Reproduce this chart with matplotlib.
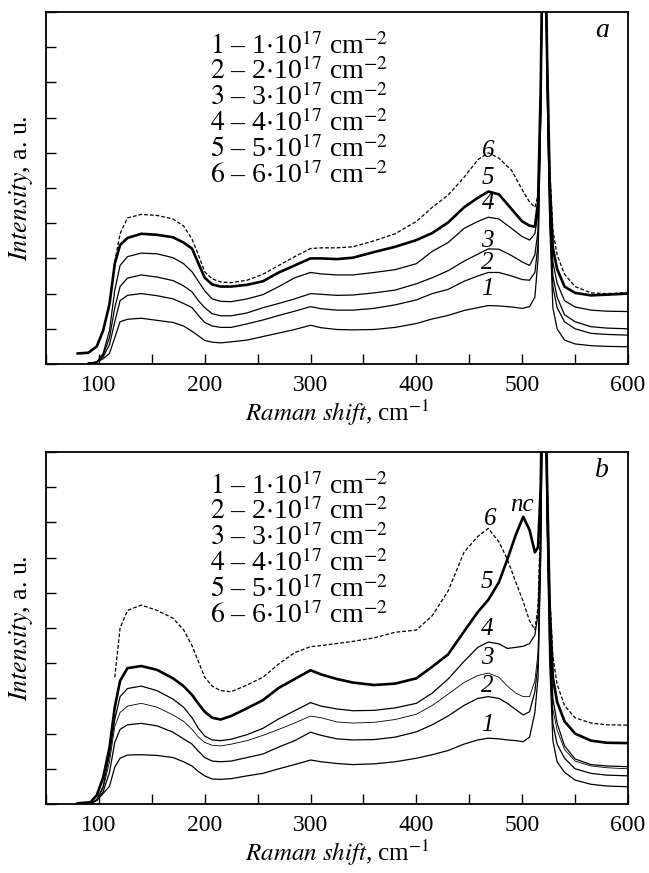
import numpy as np
import matplotlib
matplotlib.use("Agg")
import matplotlib.pyplot as plt
from matplotlib.ticker import MultipleLocator, NullFormatter

plt.rcParams['font.family'] = ['Liberation Serif', 'DejaVu Serif']
plt.rcParams['mathtext.fontset'] = 'stix'

# --- panel a: Raman shift grid and curves 1..6 ---
xa = [80, 90, 98, 104, 110, 115, 120, 127, 140, 155, 170, 180, 188, 194, 200, 207,
      215, 225, 240, 255, 270, 285, 300, 310, 325, 340, 360, 380, 400, 415, 430, 445,
      458, 468, 478, 490, 500, 507, 512, 515, 517.5, 520.5, 523.5, 526, 529, 533, 540, 550,
      565, 580, 600]
a1 = [None, 0.03, 0.05, 0.15, 0.3, 0.75, 1.2, 1.27, 1.3, 1.24, 1.18, 1.08, 0.93, 0.8, 0.67, 0.62,
      0.6, 0.63, 0.68, 0.78, 0.88, 0.98, 1.1, 1.03, 0.98, 0.97, 0.98, 1.04, 1.15, 1.28, 1.38, 1.52,
      1.6, 1.66, 1.65, 1.62, 1.58, 1.63, 1.9, 3.0, 7.0, 15, 8.0, 4.0, 1.6, 1.0, 0.68, 0.57,
      0.52, 0.5, 0.49]
a2 = [None, 0.02, 0.05, 0.2, 0.55, 1.2, 1.8, 1.95, 2.0, 1.94, 1.85, 1.72, 1.6, 1.38, 1.18, 1.08,
      1.04, 1.04, 1.14, 1.25, 1.38, 1.5, 1.63, 1.57, 1.53, 1.53, 1.58, 1.68, 1.82, 2.0, 2.12, 2.35,
      2.5, 2.6, 2.6, 2.5, 2.4, 2.38, 2.6, 3.4, 7.0, 15, 8.0, 4.2, 2.2, 1.6, 1.2, 1.0,
      0.87, 0.84, 0.82]
a3 = [None, 0.02, 0.05, 0.25, 0.75, 1.6, 2.2, 2.44, 2.53, 2.47, 2.37, 2.22, 2.05, 1.8, 1.6, 1.43,
      1.37, 1.37, 1.45, 1.6, 1.72, 1.85, 2.0, 1.98, 1.95, 1.96, 2.02, 2.1, 2.28, 2.45, 2.65, 2.92,
      3.12, 3.27, 3.26, 3.08, 2.9, 2.8, 3.1, 3.8, 7.2, 15, 8.2, 4.5, 2.5, 1.9, 1.4, 1.2,
      1.06, 1.02, 1.0]
a4 = [None, 0.02, 0.06, 0.3, 0.95, 2.1, 2.8, 3.05, 3.15, 3.13, 3.02, 2.85, 2.62, 2.35, 2.08, 1.85,
      1.78, 1.77, 1.85, 1.97, 2.2, 2.45, 2.6, 2.56, 2.53, 2.53, 2.6, 2.68, 2.85, 3.2, 3.45, 3.85,
      4.05, 4.17, 4.12, 3.85, 3.62, 3.52, 3.7, 4.3, 7.5, 15, 8.5, 4.8, 2.9, 2.3, 1.8, 1.62,
      1.53, 1.5, 1.49]
a5 = [0.3, 0.32, 0.5, 0.95, 1.7, 2.85, 3.38, 3.58, 3.7, 3.67, 3.6, 3.45, 3.28, 2.86, 2.45, 2.26,
      2.2, 2.2, 2.25, 2.35, 2.6, 2.8, 3.0, 3.0, 2.98, 3.02, 3.18, 3.33, 3.52, 3.72, 4.02, 4.45,
      4.72, 4.9, 4.82, 4.4, 4.05, 3.93, 3.9, 4.6, 7.8, 15, 8.8, 5.2, 3.3, 2.7, 2.2, 2.02,
      1.95, 1.97, 2.0]
a6 = [None, None, None, None, None, 2.9, 3.7, 4.15, 4.25, 4.22, 4.12, 3.92, 3.55, 3.1, 2.62, 2.42,
      2.33, 2.31, 2.38, 2.55, 2.8, 3.05, 3.28, 3.3, 3.3, 3.33, 3.5, 3.7, 4.05, 4.45, 4.8, 5.3,
      5.8, 6.0, 5.85, 5.5, 4.95, 4.6, 4.45, 4.8, 7.8, 15, 9.0, 5.6, 3.8, 3.1, 2.55, 2.2,
      2.02, 2.0, 2.03]

# --- panel b ---
xb = [80, 92, 98, 104, 110, 115, 120, 127, 140, 155, 170, 180, 188, 194, 200, 207,
      215, 225, 240, 255, 270, 285, 300, 310, 325, 340, 360, 380, 400, 415, 430, 445,
      458, 468, 478, 486, 494, 501, 507, 512, 515, 517.5, 520.5, 523.5, 526, 529, 533, 540,
      550, 565, 580, 600]
b1 = [None, 0.02, 0.1, 0.3, 0.5, 1.05, 1.3, 1.39, 1.4, 1.38, 1.32, 1.2, 1.08, 0.92, 0.8, 0.71,
      0.7, 0.72, 0.8, 0.87, 1.0, 1.12, 1.25, 1.2, 1.15, 1.12, 1.14, 1.2, 1.3, 1.4, 1.52, 1.7,
      1.82, 1.87, 1.85, 1.82, 1.8, 1.77, 1.9, 2.6, 3.6, 7.0, 15, 8.0, 4.0, 1.8, 1.2, 0.9,
      0.68, 0.56, 0.51, 0.49]
b2 = [None, 0.02, 0.1, 0.35, 0.9, 1.75, 2.12, 2.25, 2.29, 2.22, 2.04, 1.85, 1.7, 1.5, 1.32, 1.22,
      1.2, 1.22, 1.32, 1.42, 1.62, 1.8, 2.04, 1.95, 1.85, 1.82, 1.83, 1.9, 2.05, 2.25, 2.5, 2.8,
      3.0, 3.05, 3.0, 2.86, 2.68, 2.53, 2.62, 3.2, 4.0, 7.2, 15, 8.2, 4.4, 2.3, 1.7, 1.3,
      1.0, 0.87, 0.82, 0.8]
b3 = [None, 0.02, 0.12, 0.45, 1.2, 2.2, 2.6, 2.78, 2.86, 2.75, 2.53, 2.35, 2.12, 1.9, 1.75, 1.67,
      1.65, 1.7, 1.8, 1.95, 2.12, 2.3, 2.5, 2.45, 2.33, 2.3, 2.32, 2.4, 2.55, 2.8, 3.12, 3.45,
      3.65, 3.72, 3.6, 3.35, 3.15, 3.05, 3.05, 3.5, 4.3, 7.4, 15, 8.5, 4.7, 2.7, 2.1, 1.55,
      1.22, 1.08, 1.03, 1.0]
b4 = [None, 0.02, 0.12, 0.5, 1.4, 2.4, 3.05, 3.28, 3.35, 3.22, 2.98, 2.75, 2.45, 2.15, 1.93, 1.82,
      1.8, 1.84, 1.97, 2.15, 2.42, 2.65, 2.88, 2.78, 2.7, 2.65, 2.66, 2.73, 2.86, 3.15, 3.55, 4.05,
      4.45, 4.6, 4.55, 4.42, 4.45, 4.48, 4.56, 4.8, 5.4, 7.8, 15, 8.8, 5.0, 3.0, 2.3, 1.65,
      1.28, 1.12, 1.08, 1.06]
b5 = [0.02, 0.05, 0.25, 0.75, 1.6, 2.75, 3.5, 3.86, 3.92, 3.81, 3.57, 3.35, 3.1, 2.85, 2.62, 2.45,
      2.4, 2.5, 2.72, 2.95, 3.3, 3.55, 3.8, 3.68, 3.55, 3.45, 3.38, 3.42, 3.57, 3.9, 4.25, 4.9,
      5.45, 5.8, 6.3, 6.95, 7.65, 8.16, 7.78, 7.15, 7.3, 9.0, 15, 9.2, 5.6, 3.6, 2.9, 2.35,
      2.0, 1.8, 1.74, 1.73]
b6 = [None, None, None, None, None, 3.6, 5.0, 5.5, 5.65, 5.5, 5.28, 4.95, 4.5, 4.05, 3.6, 3.35,
      3.22, 3.19, 3.38, 3.6, 3.98, 4.3, 4.47, 4.5, 4.56, 4.62, 4.72, 4.88, 4.94, 5.35, 6.05, 7.15,
      7.6, 7.83, 7.45, 6.95, 6.3, 5.75, 5.2, 4.95, 5.6, 8.2, 15, 9.5, 6.0, 4.2, 3.4, 2.8,
      2.45, 2.3, 2.25, 2.24]

legend_lines = [r'$\mathit{%d}$ – %d$\cdot$10$^{17}$ cm$^{-2}$' % (i, i) for i in range(1, 7)]

# curve number labels (x, y) and panel letters
labels_a = {'1': (467, 2.13), '2': (467, 2.88), '3': (467, 3.5),
            '4': (468, 4.57), '5': (468, 5.28), '6': (468, 6.04)}
labels_b = {'1': (467, 2.24), '2': (467, 3.35), '3': (467, 4.15),
            '4': (467, 4.97), '5': (467, 6.32), '6': (470, 8.1), 'nc': (500, 8.5)}

styles = [dict(color='black', lw=0.9),
          dict(color='black', lw=0.9),
          dict(color='black', lw=0.9),
          dict(color='black', lw=0.9),
          dict(color='black', lw=1.9),
          dict(color='black', lw=0.9, ls=(0, (3, 1.6)))]

fig = plt.figure(figsize=(6.49, 8.73), dpi=100)
ax1 = fig.add_axes([46/649, 1-364/873, 582/649, 352/873])
ax2 = fig.add_axes([46/649, 1-804/873, 582/649, 352/873])


def draw(ax, x, ys, labels, letter, thin3=False):
    x = np.array(x, dtype=float)
    for k, y in enumerate(ys):
        st = dict(styles[k])
        if thin3 and k == 2:
            st['lw'] = 0.6
        ax.plot(x, np.array(y, dtype=float), **st)
    ax.set_xlim(50, 600)
    ax.set_ylim(0, 10)
    ax.xaxis.set_major_locator(MultipleLocator(100))
    ax.xaxis.set_minor_locator(MultipleLocator(50))
    ax.yaxis.set_major_locator(MultipleLocator(1))
    ax.yaxis.set_major_formatter(NullFormatter())
    ax.tick_params(which='both', direction='in', length=7, width=1.0,
                   labelsize=17, pad=8, top=False, right=False)
    for s in ax.spines.values():
        s.set_linewidth(1.3)
    ax.set_xlabel(r'$\mathit{Raman\ shift}$, cm$^{-1}$', fontsize=18, labelpad=1)
    ax.set_ylabel(r'$\mathit{Intensity}$, a. u.', fontsize=18.5)
    ax.yaxis.set_label_coords(-0.019, 0.5)
    for i, line in enumerate(legend_lines):
        ax.text(0.282, 0.882 - i * 0.0733, line, transform=ax.transAxes,
                fontsize=20, va='baseline', ha='left')
    for t, (lx, ly) in labels.items():
        ax.text(lx, ly, t, fontsize=18, style='italic', ha='center', va='center')
    ax.text(0.955, 0.948, letter, transform=ax.transAxes, fontsize=20,
            style='italic', ha='center', va='center')


draw(ax1, xa, [a1, a2, a3, a4, a5, a6], labels_a, 'a')
draw(ax2, xb, [b1, b2, b3, b4, b5, b6], labels_b, 'b', thin3=True)

fig.savefig('out.png', dpi=100)
